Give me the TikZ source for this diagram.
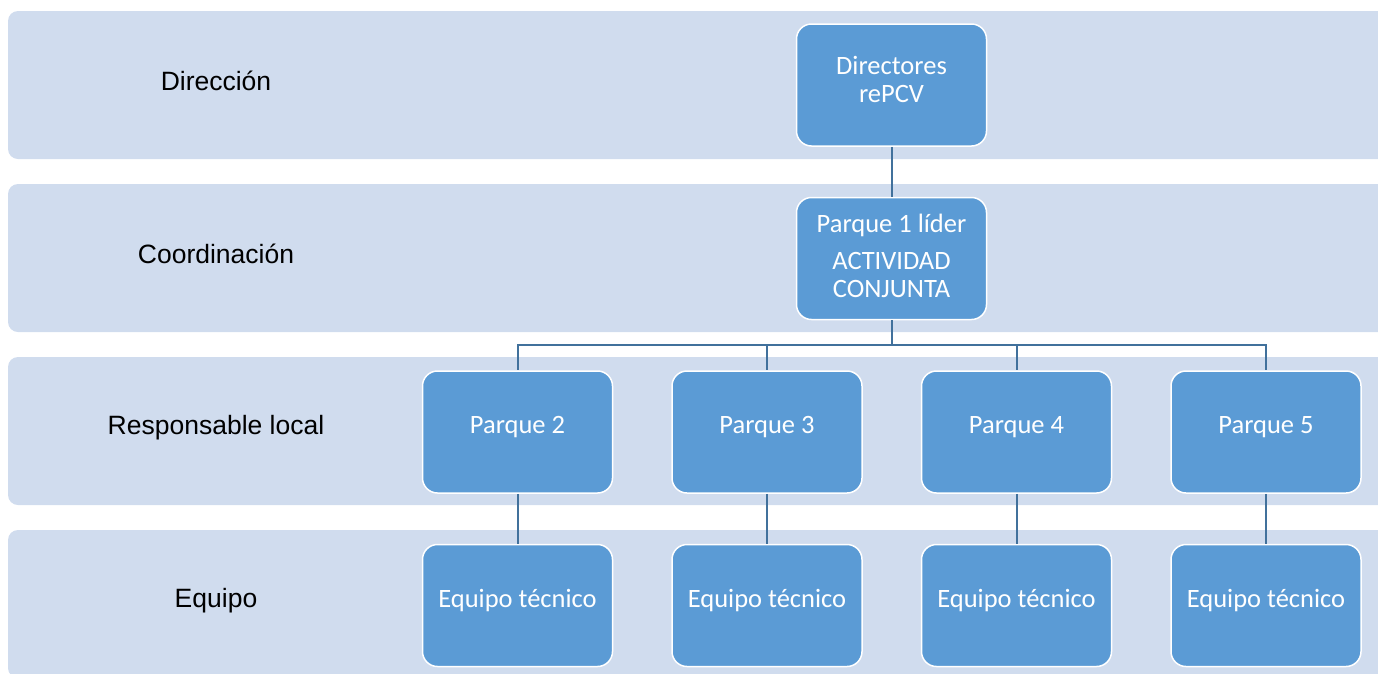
\documentclass[tikz,border=0pt]{standalone}
\usepackage{fontspec}
\setmainfont{Carlito}
\newfontfamily\lblfont{Liberation Sans}
\usetikzlibrary{positioning}
\definecolor{bandblue}{HTML}{D0DCEE}
\definecolor{boxblue}{HTML}{5B9BD5}
\definecolor{linkblue}{HTML}{41719C}
\tikzset{
    block/.style={
        draw=white, fill=boxblue, line width=1.5pt,
        rounded corners=15pt,
        minimum width = 190pt,
        minimum height = 122pt,
        align = center, text=white, text depth=14pt,
        font = \fontsize{26.5}{28}\selectfont
    },
    band/.style = {fill=bandblue, rounded corners=10pt},
    lbl/.style = {font=\lblfont\fontsize{26.5}{30}\selectfont, yshift=4.5pt},
    line/.style = {draw=linkblue, line width=2pt}
}
\begin{document}
\begin{tikzpicture}[x=1pt, y=-1pt, node distance=50pt]
\useasboundingbox (0,0) rectangle (1378,673);

    % rows
    \foreach \ytop in {11,184,357,530}
        \fill[band] (8,\ytop) rectangle ++(1380,148);

    \node[block, text depth=12pt] (dir) at (891.5,85) {Directores\\rePCV};
    \node[block, text depth=6pt, below = of dir] (lead) {Parque 1 líder\\[9pt]ACTIVIDAD\\CONJUNTA};
    \node[block, below = of lead, xshift=-124.5pt] (p3) {Parque 3};
    \node[block, left = 58pt of p3] (p2) {Parque 2};
    \node[block, right = 58pt of p3] (p4) {Parque 4};
    \node[block, right = 58pt of p4] (p5) {Parque 5};
    \foreach \k in {2,...,5}
        \node[block, below = of p\k] (eq\k) {Equipo técnico};

    \coordinate (lblx) at (216,0);
    \node[lbl] (l-dir) at (lblx |- dir) {Dirección};
    \node[lbl] (l-coord) at (lblx |- lead) {Coordinación};
    \node[lbl] (l-resp) at (lblx |- p2) {Responsable local};
    \node[lbl] (l-eq) at (lblx |- eq2) {Equipo};

    \draw[line] (dir) -- (lead);
    \foreach \k in {2,...,5} {
        \draw[line] (lead.south) -- ++(0,25) -| (p\k.north);
        \draw[line] (p\k) -- (eq\k);
    }

\end{tikzpicture}
\end{document}
